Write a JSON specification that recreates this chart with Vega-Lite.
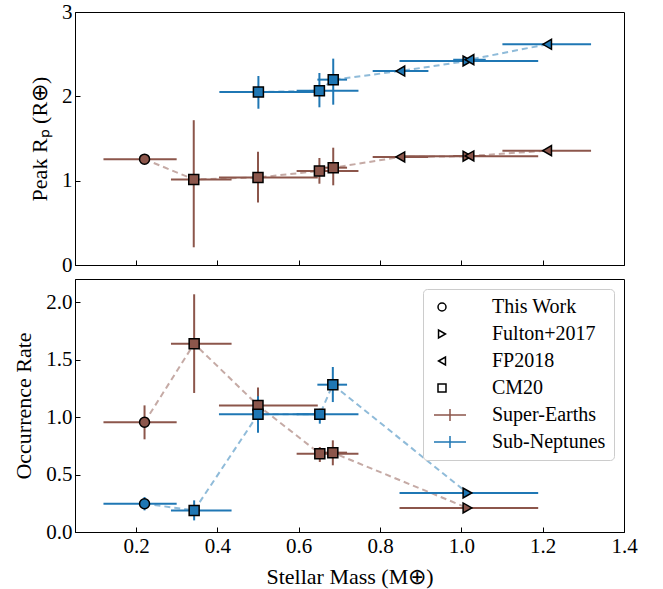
{
  "$schema": "https://vega.github.io/schema/vega-lite/v6.json",
  "padding": {"left": 12, "top": 0, "right": 5, "bottom": 5},
  "background": "white",
  "spacing": 2,
  "resolve": {"scale": {"color": "independent", "fill": "independent", "shape": "independent", "stroke": "independent"}},
  "config": {
    "font": "Liberation Serif",
    "view": {"stroke": "black", "strokeWidth": 1},
    "axis": {
      "grid": false, "domainColor": "black", "tickColor": "black", "tickSize": -5,
      "labelPadding": 8, "labelFontSize": 21, "titleFontSize": 22, "titleFontWeight": "normal",
      "labelColor": "black", "titleColor": "black", "labelFont": "Liberation Serif", "titleFont": "Liberation Serif",
      "labelFlush": false, "titlePadding": 10
    },
    "legend": {
      "padding": 8, "fillColor": "white", "strokeColor": "#cccccc", "cornerRadius": 4,
      "labelFont": "Liberation Serif", "labelFontSize": 20, "labelColor": "black",
      "rowPadding": 7, "symbolSize": 64, "labelOffset": 40, "symbolOffset": 1,
      "symbolFillColor": "white"
    }
  },
  "datasets": {
    "peak": [
      {"group": "Super-Earths", "source": "This Work", "x": 0.221, "xlo": 0.12, "xhi": 0.30, "y": 1.255, "ylo": null, "yhi": null},
      {"group": "Super-Earths", "source": "CM20", "x": 0.342, "xlo": 0.286, "xhi": 0.435, "y": 1.015, "ylo": 0.21, "yhi": 1.717},
      {"group": "Super-Earths", "source": "CM20", "x": 0.50, "xlo": 0.404, "xhi": 0.647, "y": 1.038, "ylo": 0.742, "yhi": 1.342},
      {"group": "Super-Earths", "source": "CM20", "x": 0.651, "xlo": 0.595, "xhi": 0.747, "y": 1.115, "ylo": 0.964, "yhi": 1.269},
      {"group": "Super-Earths", "source": "CM20", "x": 0.685, "xlo": 0.646, "xhi": 0.719, "y": 1.154, "ylo": 0.945, "yhi": 1.391},
      {"group": "Super-Earths", "source": "FP2018", "x": 0.85, "xlo": 0.782, "xhi": 0.919, "y": 1.281, "ylo": null, "yhi": null},
      {"group": "Super-Earths", "source": "Fulton+2017", "x": 1.015, "xlo": 0.848, "xhi": 1.189, "y": 1.29, "ylo": null, "yhi": null},
      {"group": "Super-Earths", "source": "FP2018", "x": 1.02, "xlo": 0.98, "xhi": 1.06, "y": 1.293, "ylo": null, "yhi": null},
      {"group": "Super-Earths", "source": "FP2018", "x": 1.211, "xlo": 1.101, "xhi": 1.319, "y": 1.356, "ylo": null, "yhi": null},
      {"group": "Sub-Neptunes", "source": "CM20", "x": 0.501, "xlo": 0.405, "xhi": 0.645, "y": 2.051, "ylo": 1.853, "yhi": 2.241},
      {"group": "Sub-Neptunes", "source": "CM20", "x": 0.651, "xlo": 0.595, "xhi": 0.747, "y": 2.067, "ylo": 1.87, "yhi": 2.277},
      {"group": "Sub-Neptunes", "source": "CM20", "x": 0.685, "xlo": 0.646, "xhi": 0.719, "y": 2.198, "ylo": 1.901, "yhi": 2.447},
      {"group": "Sub-Neptunes", "source": "FP2018", "x": 0.85, "xlo": 0.782, "xhi": 0.919, "y": 2.30, "ylo": null, "yhi": null},
      {"group": "Sub-Neptunes", "source": "Fulton+2017", "x": 1.015, "xlo": 0.848, "xhi": 1.189, "y": 2.419, "ylo": null, "yhi": null},
      {"group": "Sub-Neptunes", "source": "FP2018", "x": 1.02, "xlo": 0.98, "xhi": 1.06, "y": 2.435, "ylo": null, "yhi": null},
      {"group": "Sub-Neptunes", "source": "FP2018", "x": 1.211, "xlo": 1.101, "xhi": 1.319, "y": 2.617, "ylo": null, "yhi": null}
    ],
    "rate": [
      {"group": "Super-Earths", "source": "This Work", "x": 0.221, "xlo": 0.12, "xhi": 0.30, "y": 0.954, "ylo": 0.806, "yhi": 1.101},
      {"group": "Super-Earths", "source": "CM20", "x": 0.343, "xlo": 0.286, "xhi": 0.435, "y": 1.638, "ylo": 1.209, "yhi": 2.067},
      {"group": "Super-Earths", "source": "CM20", "x": 0.50, "xlo": 0.404, "xhi": 0.647, "y": 1.101, "ylo": 0.95, "yhi": 1.257},
      {"group": "Super-Earths", "source": "CM20", "x": 0.652, "xlo": 0.595, "xhi": 0.747, "y": 0.681, "ylo": 0.609, "yhi": 0.739},
      {"group": "Super-Earths", "source": "CM20", "x": 0.684, "xlo": 0.646, "xhi": 0.719, "y": 0.69, "ylo": 0.58, "yhi": 0.797},
      {"group": "Super-Earths", "source": "Fulton+2017", "x": 1.015, "xlo": 0.848, "xhi": 1.189, "y": 0.209, "ylo": null, "yhi": null},
      {"group": "Sub-Neptunes", "source": "This Work", "x": 0.221, "xlo": 0.12, "xhi": 0.30, "y": 0.246, "ylo": 0.188, "yhi": 0.304},
      {"group": "Sub-Neptunes", "source": "CM20", "x": 0.343, "xlo": 0.286, "xhi": 0.435, "y": 0.188, "ylo": 0.101, "yhi": 0.275},
      {"group": "Sub-Neptunes", "source": "CM20", "x": 0.50, "xlo": 0.404, "xhi": 0.647, "y": 1.023, "ylo": 0.864, "yhi": 1.18},
      {"group": "Sub-Neptunes", "source": "CM20", "x": 0.652, "xlo": 0.595, "xhi": 0.747, "y": 1.023, "ylo": 0.942, "yhi": 1.072},
      {"group": "Sub-Neptunes", "source": "CM20", "x": 0.684, "xlo": 0.646, "xhi": 0.719, "y": 1.281, "ylo": 1.13, "yhi": 1.435},
      {"group": "Sub-Neptunes", "source": "Fulton+2017", "x": 1.015, "xlo": 0.848, "xhi": 1.189, "y": 0.339, "ylo": null, "yhi": null}
    ],
    "legendrows": [
      {"source": "This Work"}, {"source": "Fulton+2017"}, {"source": "FP2018"}, {"source": "CM20"},
      {"source": "Super-Earths"}, {"source": "Sub-Neptunes"}
    ]
  },
  "vconcat": [
    {
      "width": 549, "height": 253,
      "data": {"name": "peak"},
      "layer": [
        {
          "mark": {"type": "line", "strokeDash": [6, 4], "strokeWidth": 2, "opacity": 0.5},
          "encoding": {
            "x": {"field": "x", "type": "quantitative", "title": null, "scale": {"domain": [0.05, 1.4], "nice": false, "zero": false},
                  "axis": {"labels": false, "values": [0.2, 0.4, 0.6, 0.8, 1.0, 1.2, 1.4], "title": null, "labelPadding": 0}},
            "y": {"field": "y", "type": "quantitative", "title": "Peak Rₚ (R⊕)", "scale": {"domain": [0, 3], "nice": false},
                  "axis": {"values": [0, 1, 2, 3], "format": "d"}},
            "color": {"field": "group", "type": "nominal", "scale": {"domain": ["Super-Earths", "Sub-Neptunes"], "range": ["#8c564b", "#1f77b4"]}, "legend": null}
          }
        },
        {
          "mark": {"type": "rule", "strokeWidth": 2},
          "encoding": {
            "x": {"field": "xlo", "type": "quantitative", "title": null},
            "x2": {"field": "xhi"},
            "y": {"field": "y", "type": "quantitative", "title": "Peak Rₚ (R⊕)"},
            "color": {"field": "group", "type": "nominal", "legend": null}
          }
        },
        {
          "transform": [{"filter": "isValid(datum.ylo)"}],
          "mark": {"type": "rule", "strokeWidth": 2},
          "encoding": {
            "x": {"field": "x", "type": "quantitative", "title": null},
            "y": {"field": "ylo", "type": "quantitative", "title": "Peak Rₚ (R⊕)"},
            "y2": {"field": "yhi"},
            "color": {"field": "group", "type": "nominal", "legend": null}
          }
        },
        {
          "mark": {"type": "point", "filled": true, "size": 100, "stroke": "black", "strokeWidth": 1.5, "opacity": 1},
          "encoding": {
            "x": {"field": "x", "type": "quantitative", "title": null},
            "y": {"field": "y", "type": "quantitative", "title": "Peak Rₚ (R⊕)"},
            "fill": {"field": "group", "type": "nominal", "scale": {"domain": ["Super-Earths", "Sub-Neptunes"], "range": ["#8c564b", "#1f77b4"]}, "legend": null},
            "shape": {"field": "source", "type": "nominal", "scale": {"domain": ["This Work", "Fulton+2017", "FP2018", "CM20"], "range": ["circle", "triangle-right", "triangle-left", "square"]}, "legend": null}
          }
        }
      ]
    },
    {
      "width": 549, "height": 253,
      "resolve": {"scale": {"shape": "independent", "stroke": "independent"}},
      "layer": [
        {
          "data": {"name": "rate"},
          "mark": {"type": "line", "strokeDash": [6, 4], "strokeWidth": 2, "opacity": 0.5},
          "encoding": {
            "x": {"field": "x", "type": "quantitative", "title": "Stellar Mass (M⊕)", "scale": {"domain": [0.05, 1.4], "nice": false, "zero": false},
                  "axis": {"values": [0.2, 0.4, 0.6, 0.8, 1.0, 1.2, 1.4], "format": ".1f"}},
            "y": {"field": "y", "type": "quantitative", "title": "Occurrence Rate", "scale": {"domain": [0, 2.2], "nice": false},
                  "axis": {"values": [0, 0.5, 1.0, 1.5, 2.0], "format": ".1f"}},
            "color": {"field": "group", "type": "nominal", "scale": {"domain": ["Super-Earths", "Sub-Neptunes"], "range": ["#8c564b", "#1f77b4"]}, "legend": null}
          }
        },
        {
          "data": {"name": "rate"},
          "mark": {"type": "rule", "strokeWidth": 2},
          "encoding": {
            "x": {"field": "xlo", "type": "quantitative", "title": "Stellar Mass (M⊕)"},
            "x2": {"field": "xhi"},
            "y": {"field": "y", "type": "quantitative", "title": "Occurrence Rate"},
            "color": {"field": "group", "type": "nominal", "legend": null}
          }
        },
        {
          "data": {"name": "rate"},
          "transform": [{"filter": "isValid(datum.ylo)"}],
          "mark": {"type": "rule", "strokeWidth": 2},
          "encoding": {
            "x": {"field": "x", "type": "quantitative", "title": "Stellar Mass (M⊕)"},
            "y": {"field": "ylo", "type": "quantitative", "title": "Occurrence Rate"},
            "y2": {"field": "yhi"},
            "color": {"field": "group", "type": "nominal", "legend": null}
          }
        },
        {
          "data": {"name": "rate"},
          "mark": {"type": "point", "filled": true, "size": 100, "stroke": "black", "strokeWidth": 1.5, "opacity": 1},
          "encoding": {
            "x": {"field": "x", "type": "quantitative", "title": "Stellar Mass (M⊕)"},
            "y": {"field": "y", "type": "quantitative", "title": "Occurrence Rate"},
            "fill": {"field": "group", "type": "nominal", "scale": {"domain": ["Super-Earths", "Sub-Neptunes"], "range": ["#8c564b", "#1f77b4"]}, "legend": null},
            "shape": {"field": "source", "type": "nominal",
                      "scale": {"domain": ["This Work", "Fulton+2017", "FP2018", "CM20"], "range": ["circle", "triangle-right", "triangle-left", "square"]},
                      "legend": null}
          }
        },
        {
          "data": {"name": "legendrows"},
          "mark": {"type": "point", "opacity": 0, "size": 64, "filled": false},
          "encoding": {
            "shape": {"field": "source", "type": "nominal",
                      "scale": {"domain": ["This Work", "Fulton+2017", "FP2018", "CM20", "Super-Earths", "Sub-Neptunes"],
                                "range": ["circle", "triangle-right", "triangle-left", "square", "M-2,0H6M2,-1.5V1.5", "M-2,0H6M2,-1.5V1.5"]},
                      "legend": {"title": null, "orient": "top-right", "offset": 10,
                                 "encode": {"symbols": {"update": {"opacity": {"value": 1}, "fill": {"value": "white"},
                                   "strokeWidth": {"signal": "datum.value === 'Super-Earths' || datum.value === 'Sub-Neptunes' ? 2 : 1.4"}}}}}},
            "stroke": {"field": "source", "type": "nominal",
                       "scale": {"domain": ["This Work", "Fulton+2017", "FP2018", "CM20", "Super-Earths", "Sub-Neptunes"],
                                 "range": ["black", "black", "black", "black", "#8c564b", "#1f77b4"]},
                       "legend": {"title": null, "orient": "top-right", "offset": 10,
                                  "encode": {"symbols": {"update": {"opacity": {"value": 1}, "fill": {"value": "white"},
                                    "strokeWidth": {"signal": "datum.value === 'Super-Earths' || datum.value === 'Sub-Neptunes' ? 2 : 1.4"}}}}}}
          }
        }
      ]
    }
  ]
}
